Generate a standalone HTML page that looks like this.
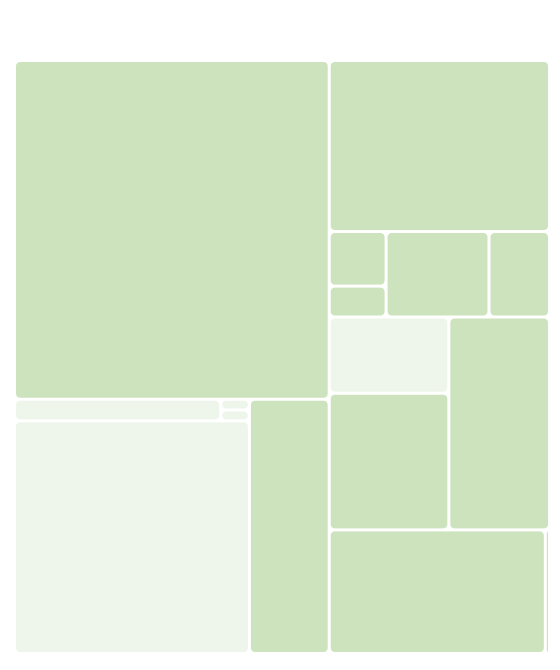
<!DOCTYPE html>
<html><head><meta charset="utf-8"><style>
html,body{margin:0;padding:0;background:#fff;width:560px;height:670px;overflow:hidden;font-family:"Liberation Sans",sans-serif}
</style></head><body>
<svg id="chart" width="560" height="670" viewBox="0 0 560 670"></svg>
<script>
// leaf names, values and shade (0 = green, 1 = light)
const leafNames = ["big-a","strip-a","tiny-a","tiny-b","light-big","tall-a","top-r","stack-a","stack-b","mid-r","small-r","light-m","green-m","tall-r","bottom-r","sliver-r"];
const leafValues = [1030,43,3,3,528,196,364,30,17,85,50,88,158,207,258,5];
const leafShade = [0,1,1,1,1,0,0,0,0,0,0,1,0,0,0,0];
// hierarchy: indices into leaf arrays, with split directions ('h' = side by side, 'v' = stacked)
const tree = {d:'h',c:[
  {d:'v',c:[0,{d:'h',c:[{d:'v',c:[{d:'h',c:[1,{d:'v',c:[2,3]}]},4]},5]}]},
  {d:'v',c:[6,{d:'h',c:[{d:'v',c:[7,8]},9,10]},{d:'h',c:[{d:'v',c:[11,12]},13]},{d:'h',c:[14,15]}]}
]};
const NS="http://www.w3.org/2000/svg";
const svg=document.getElementById('chart');
function total(n){return typeof n==='number'?leafValues[n]:n.c.reduce((s,k)=>s+total(k),0);}
function layout(n,x,y,w,h){
  if(typeof n==='number'){
    const r=document.createElementNS(NS,'rect');
    const p=1.5;
    r.setAttribute('x',x+p);r.setAttribute('y',y+p);
    r.setAttribute('width',Math.max(0,w-2*p));r.setAttribute('height',Math.max(0,h-2*p));
    r.setAttribute('rx',4);
    r.setAttribute('fill',leafShade[n]?'#eef6eb':'#cce3bd');
    
    
    svg.appendChild(r);return;
  }
  const t=total(n);let off=0;
  n.c.forEach(k=>{
    const f=total(k)/t;
    if(n.d==='h'){layout(k,x+off,y,w*f,h);off+=w*f;}
    else{layout(k,x,y+off,w,h*f);off+=h*f;}
  });
}
layout(tree,14.5,60.5,535,593);
</script>
</body></html>
